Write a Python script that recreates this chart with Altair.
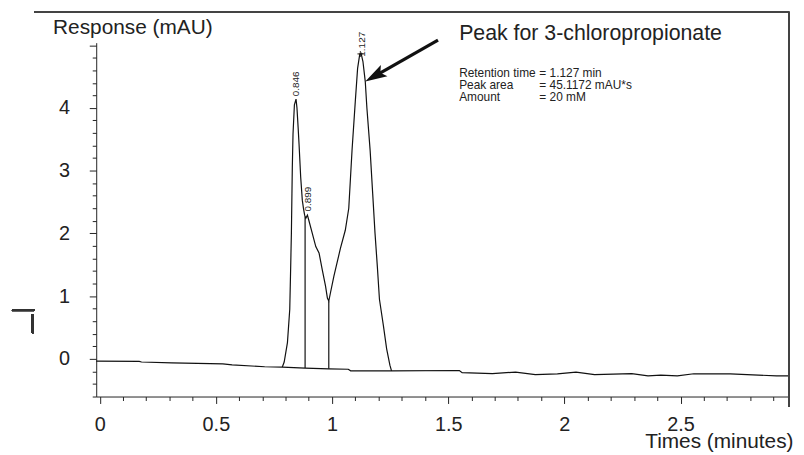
import altair as alt
import pandas as pd

# ---- data ----
base_x = [-0.015, 0.17, 0.18, 0.31, 0.53, 0.57, 0.71, 0.787, 0.884, 0.986, 1.07, 1.08, 1.256,
          1.548, 1.56, 1.69, 1.79, 1.875, 1.97, 2.05, 2.13, 2.29, 2.36, 2.415, 2.486, 2.557,
          2.714, 2.913, 2.967]
base_y = [-0.036, -0.04, -0.05, -0.065, -0.08, -0.095, -0.125, -0.13, -0.147, -0.158, -0.165,
          -0.19, -0.19, -0.185, -0.22, -0.235, -0.21, -0.25, -0.24, -0.21, -0.25, -0.235, -0.27,
          -0.26, -0.27, -0.237, -0.24, -0.27, -0.27]

peak_x = [0.786, 0.794, 0.808, 0.818, 0.822, 0.825, 0.827, 0.829, 0.832, 0.838, 0.845, 0.849,
          0.854, 0.858, 0.865, 0.872, 0.877, 0.882, 0.887, 0.894, 0.9, 0.915, 0.93, 0.944, 0.958,
          0.972, 0.98, 0.986, 0.993, 1.008, 1.036, 1.057, 1.072, 1.086, 1.1, 1.11, 1.119, 1.125,
          1.133, 1.143, 1.15, 1.164, 1.175, 1.185, 1.195, 1.204, 1.221, 1.235, 1.249, 1.256]
peak_y = [-0.13, -0.05, 0.26, 0.79, 1.47, 2.0, 2.53, 3.05, 3.58, 4.05, 4.14, 4.0,
          3.69, 3.42, 2.9, 2.53, 2.4, 2.29, 2.24, 2.29, 2.21, 2.0, 1.79, 1.69, 1.42,
          1.16, 0.97, 0.92, 1.05, 1.32, 1.76, 2.05, 2.4, 3.32, 4.1, 4.63, 4.85, 4.87,
          4.74, 4.42, 4.0, 3.32, 2.63, 2.0, 1.47, 0.95, 0.53, 0.16, -0.1, -0.19]

drop_x = [0.884, 0.986]
drop_top = [2.27, 0.92]
drop_bottom = [-0.147, -0.158]

rt_labels = ["0.846", "0.899", "1.127"]
rt_x = [0.846, 0.898, 1.127]
rt_y = [4.14, 2.3, 4.77]

apex_x = [1.122]
apex_y = [4.86]

arrow_tail = (1.456, 5.08)
arrow_neck = (1.18, 4.50)
arrow_tip = (1.143, 4.42)

title_text = "Peak for 3-chloropropionate"
info_labels = ["Retention time", "Peak area", "Amount"]
info_values = ["= 1.127 min", "= 45.1172 mAU*s", "= 20 mM"]
info_y = [4.50, 4.30, 4.11]

x_ticks = [round(i * 0.1, 1) for i in range(0, 30)]
y_ticks = [round(-0.6 + i * 0.2, 1) for i in range(0, 29)]

FONT = "Liberation Sans"
TXT = "#222222"

x_enc = alt.X(
    "x:Q",
    scale=alt.Scale(domain=[-0.015, 2.967], nice=False, zero=False),
    axis=alt.Axis(
        values=x_ticks,
        labelExpr="abs(datum.value*2 - round(datum.value*2)) < 1e-6 ? format(datum.value, '~g') : ''",
        tickSize={"condition": {"test": "abs(datum.value*2 - round(datum.value*2)) < 1e-6", "value": 7}, "value": 4},
        grid=False,
        labelFontSize=20,
        labelFont=FONT,
        labelColor=TXT,
        labelPadding=11,
        labelFlush=False,
        labelOverlap=False,
        domainColor="#222",
        tickColor="#222",
        title="Times (minutes)",
        titleFont=FONT,
        titleFontSize=21,
        titleFontWeight="normal",
        titleColor=TXT,
        titleX=703,
        titleY=51,
        titleAlign="right",
        titleBaseline="alphabetic",
        titleAnchor="end",
    ),
)
y_enc = alt.Y(
    "y:Q",
    scale=alt.Scale(domain=[-0.6, 5.04], nice=False, zero=False),
    axis=alt.Axis(
        values=y_ticks,
        labelExpr="abs(datum.value - round(datum.value)) < 1e-6 && datum.value >= 0 && datum.value < 4.5 ? format(datum.value, 'd') : ''",
        tickSize={"condition": {"test": "abs(datum.value - round(datum.value)) < 1e-6", "value": 7}, "value": 4},
        grid=False,
        labelFontSize=20,
        labelFont=FONT,
        labelColor=TXT,
        labelPadding=20,
        labelOverlap=False,
        labelFlush=False,
        domainColor="#222",
        tickColor="#222",
        title="Response (mAU)",
        titleFont=FONT,
        titleFontSize=21,
        titleFontWeight="normal",
        titleColor=TXT,
        titleAngle=0,
        titleX=-44,
        titleY=-9,
        titleAlign="left",
        titleBaseline="alphabetic",
    ),
)

base_df = pd.DataFrame({"x": base_x, "y": base_y})
peak_df = pd.DataFrame({"x": peak_x, "y": peak_y})
drop_df = pd.DataFrame({"x": drop_x, "y": drop_top, "y2": drop_bottom})
rt_df = pd.DataFrame({"x": rt_x, "y": rt_y, "t": rt_labels})
apex_df = pd.DataFrame({"x": apex_x, "y": apex_y})
arrow_df = pd.DataFrame({"x": [arrow_tail[0]], "y": [arrow_tail[1]],
                         "x2": [arrow_neck[0]], "y2": [arrow_neck[1]]})
head_df = pd.DataFrame({"x": [arrow_tip[0]], "y": [arrow_tip[1]]})
title_df = pd.DataFrame({"x": [1.547], "y": [5.08], "t": [title_text]})
info_l_df = pd.DataFrame({"x": [1.547] * 3, "y": info_y, "t": info_labels})
info_v_df = pd.DataFrame({"x": [1.892] * 3, "y": info_y, "t": info_values})

baseline = alt.Chart(base_df).mark_line(color="#111", strokeWidth=1.2).encode(x=x_enc, y=y_enc)
peak = alt.Chart(peak_df).mark_line(color="#111", strokeWidth=1.2).encode(x=x_enc, y=y_enc)
drops = alt.Chart(drop_df).mark_rule(color="#111", strokeWidth=1.2).encode(x=x_enc, y=y_enc, y2="y2:Q")
rt_text = alt.Chart(rt_df).mark_text(angle=270, align="left", baseline="middle", dx=3,
                                     font=FONT, fontSize=10, color=TXT).encode(x=x_enc, y=y_enc, text="t:N")
apex = alt.Chart(apex_df).mark_point(shape="M-1,0L1,0M0,-1L0,1", size=36, color="#111",
                                     strokeWidth=1.2, filled=False).encode(x=x_enc, y=y_enc)
arrow_line = alt.Chart(arrow_df).mark_rule(color="#111", strokeWidth=3.3).encode(
    x=x_enc, y=y_enc, x2="x2:Q", y2="y2:Q")
arrow_head = alt.Chart(head_df).mark_point(shape="M0,0L0.6,2L0,1.6L-0.6,2Z", size=484, angle=240,
                                           filled=True, color="#111", opacity=1).encode(x=x_enc, y=y_enc)
title_txt = alt.Chart(title_df).mark_text(align="left", baseline="alphabetic", font=FONT,
                                          fontSize=21.5, color=TXT).encode(x=x_enc, y=y_enc, text="t:N")
info_l = alt.Chart(info_l_df).mark_text(align="left", baseline="alphabetic", font=FONT,
                                        fontSize=12, color=TXT).encode(x=x_enc, y=y_enc, text="t:N")
info_v = alt.Chart(info_v_df).mark_text(align="left", baseline="alphabetic", font=FONT,
                                        fontSize=12, color=TXT).encode(x=x_enc, y=y_enc, text="t:N")

# frame lines and stray glyph (decoration, pixel positions)
frame_top = alt.Chart(base_df).mark_rule(color="#444", strokeWidth=1.5).encode(
    x=alt.value(-62), x2=alt.value(699), y=alt.value(-31))
frame_right = alt.Chart(base_df).mark_rule(color="#444", strokeWidth=1.5).encode(
    x=alt.value(699), y=alt.value(-31), y2=alt.value(367))
glyph_h = alt.Chart(base_df).mark_rule(color="#333", strokeWidth=1.5).encode(
    x=alt.value(-85), x2=alt.value(-62), y=alt.value(270))
glyph_v = alt.Chart(base_df).mark_rule(color="#333", strokeWidth=2).encode(
    x=alt.value(-64), y=alt.value(274), y2=alt.value(293))

chart = alt.layer(
    baseline, peak, drops, rt_text, apex, arrow_line, arrow_head,
    title_txt, info_l, info_v, frame_top, frame_right, glyph_h, glyph_v
).properties(
    width=699, height=357,
    autosize=alt.AutoSizeParams(type="none"),
    padding={"left": 89, "top": 33, "right": 7, "bottom": 56},
    background="white",
).configure_view(stroke=None)

chart.save("out.html", embed_options={"renderer": "svg", "actions": False})
